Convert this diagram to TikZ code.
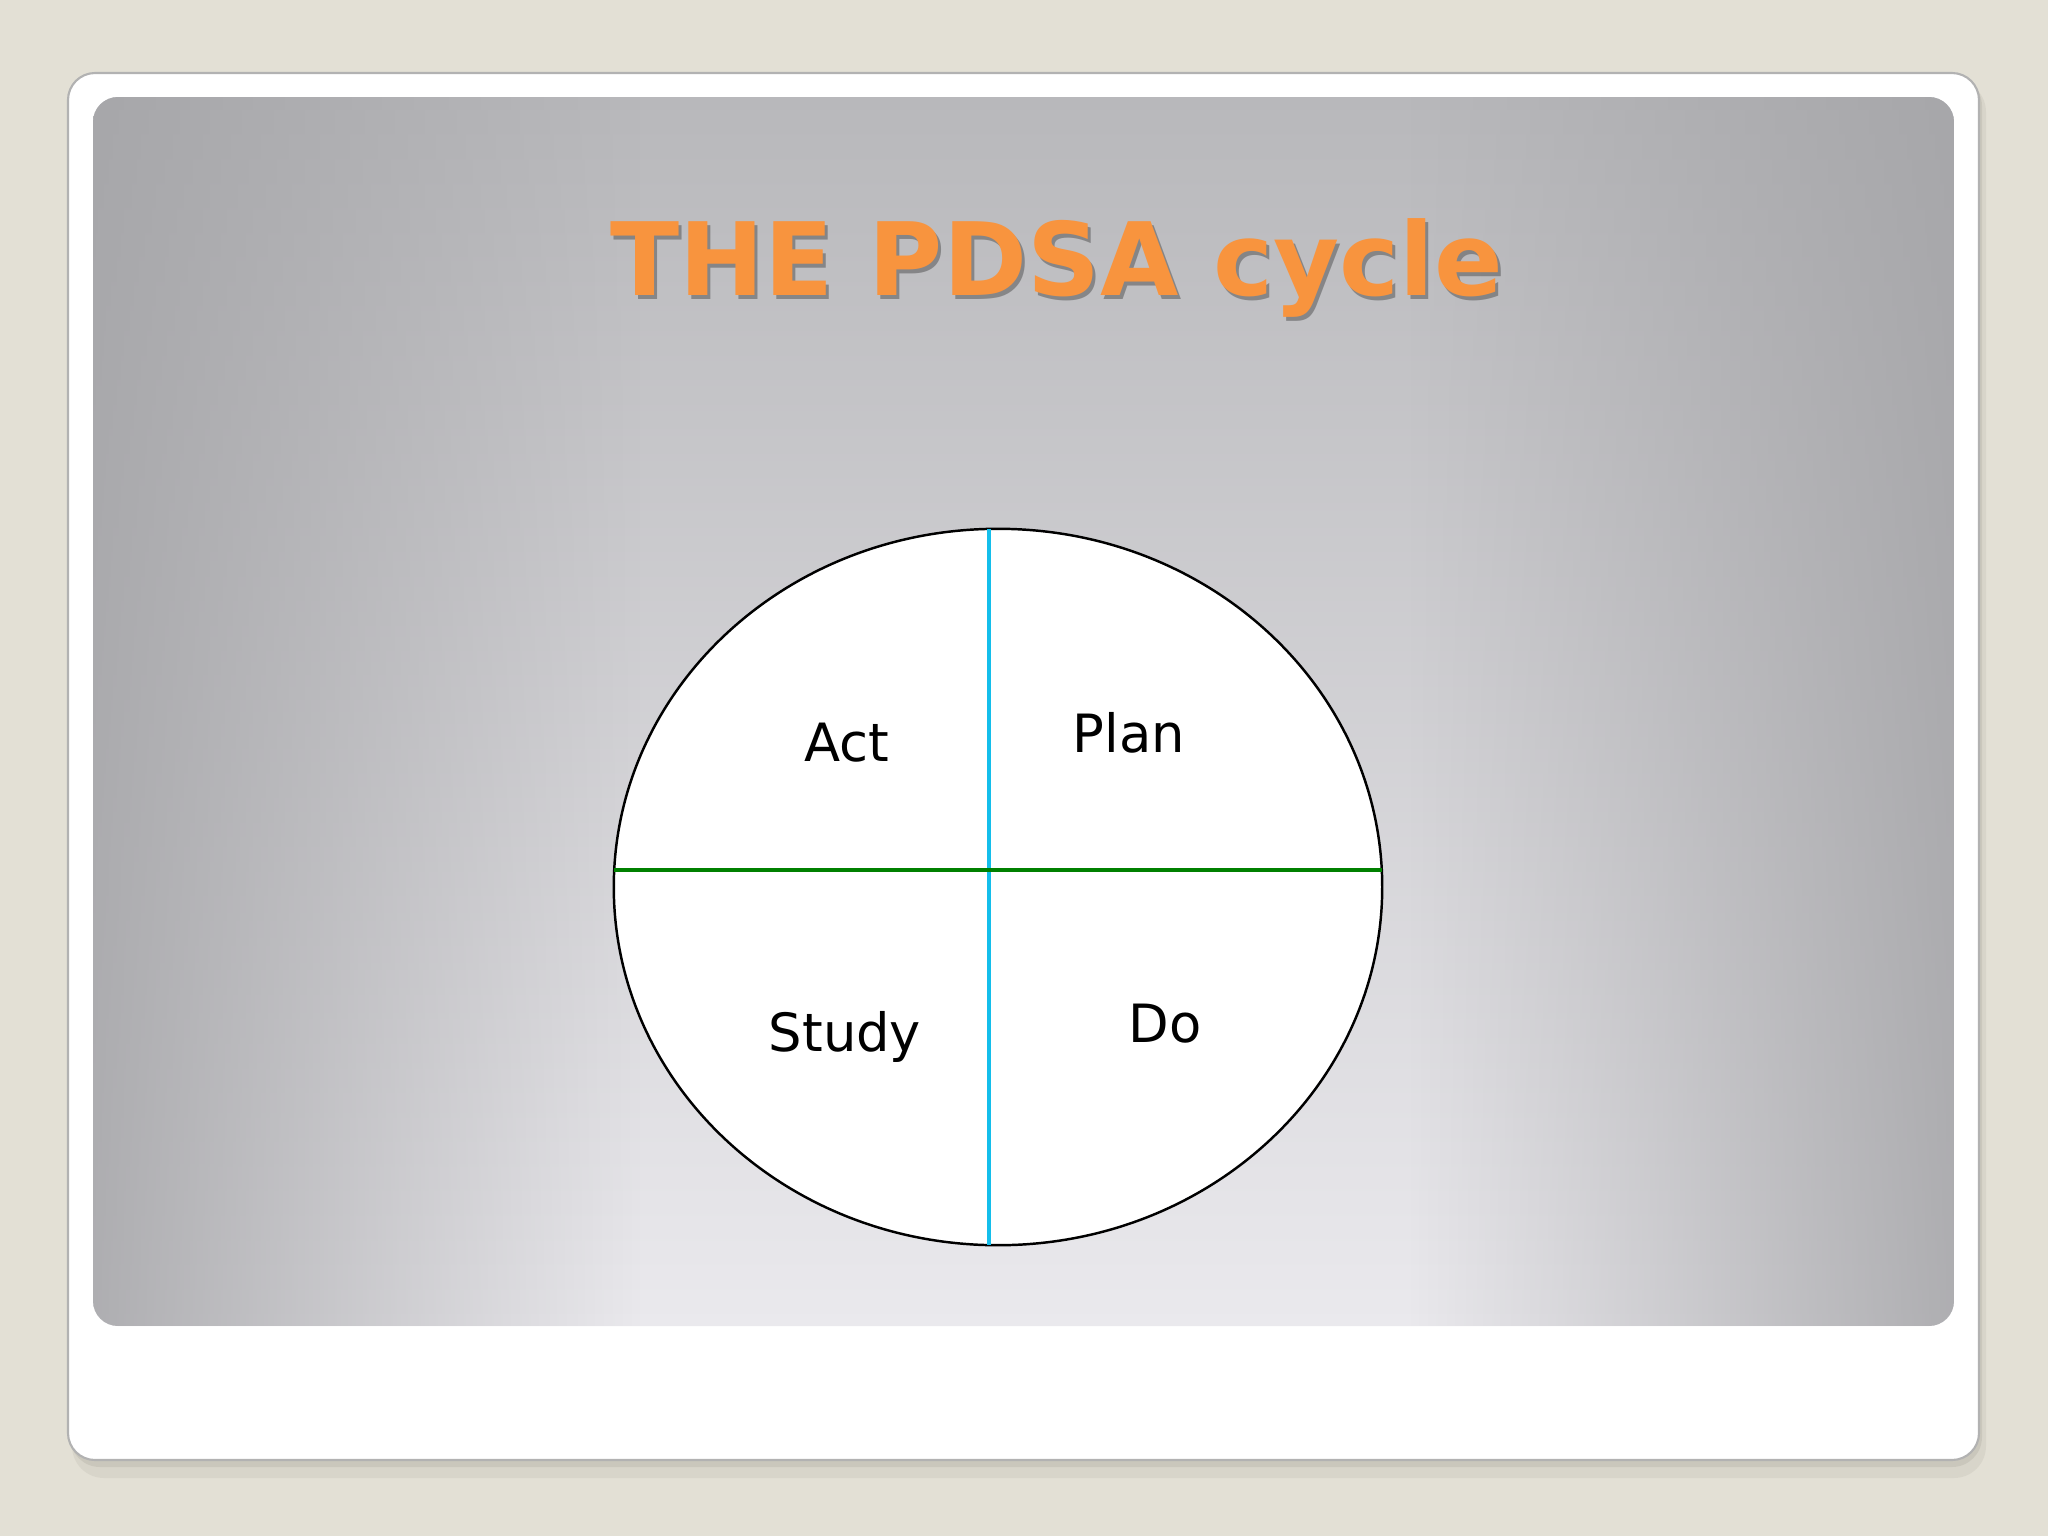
\documentclass[tikz,border=0pt]{standalone}
\usepackage{fontspec}
\setmainfont{DejaVu Sans}
\usetikzlibrary{shapes.geometric,fadings}

\definecolor{slidebg}{RGB}{227,224,213}
\definecolor{cardshadow}{RGB}{186,183,172}
\definecolor{panelTop}{RGB}{184,184,187}
\definecolor{panelBot}{RGB}{234,233,237}
\definecolor{panelEdge}{RGB}{164,164,167}
\definecolor{titleorange}{RGB}{248,148,62}
\definecolor{splitcyan}{RGB}{20,190,235}
\definecolor{splitgreen}{RGB}{0,128,0}

\tikzset{
  quarter/.style = {anchor = base, font = \fontsize{15}{18}\selectfont, text = black},
  heading/.style = {anchor = base, font = \fontsize{28.8}{34}\selectfont\bfseries}
}

\begin{document}
\begin{tikzpicture}[x = 0.01cm, y = -0.01cm]
	 \useasboundingbox (0, 0) rectangle (2048, 1536);
	 \fill[slidebg] (0, 0) rectangle (2048, 1536);
	 
	 \fill[cardshadow, opacity = 0.25, rounded corners = 0.32cm] (72, 80) rectangle (1986, 1478);
	 \fill[cardshadow, opacity = 0.45, rounded corners = 0.3cm] (70, 76) rectangle (1982, 1467);
	 \filldraw[fill = white, draw = gray!60, line width = 0.6pt, rounded corners = 0.27cm] (68, 73) rectangle (1979, 1460);
	 
	 \begin{scope}
	 \clip[rounded corners = 0.25cm] (93, 97) rectangle (1954, 1326);
	 \shade[top color = panelTop, bottom color = panelBot] (93, 97) rectangle (1954, 1326);
	 \fill[panelEdge, opacity = 0.85, path fading = east] (93, 97) rectangle (640, 1326);
	 \fill[panelEdge, opacity = 0.85, path fading = west] (1410, 97) rectangle (1954, 1326);
	 \end{scope}
	 
	 \node[heading, text = black!75, opacity = 0.45] (titleshadow) at (1060, 299) {THE PDSA cycle};
	 \node[heading, text = titleorange] (title) at (1057, 295) {THE PDSA cycle};
	 
	 \node[draw, ellipse, fill = white, line width = 0.7pt, inner sep = 0pt,
	   minimum width = 7.68cm, minimum height = 7.16cm] (cycle) at (998, 887) {};
	 
	 \coordinate (vtop) at (989, 529);
	 \coordinate (vbot) at (989, 1245);
	 \coordinate (hleft) at (614, 870);
	 \coordinate (hright) at (1382, 870);
	 
	 \draw[splitcyan, line width = 0.9pt] (vtop) -- (vbot);
	 \draw[splitgreen, line width = 0.9pt] (hleft) -- (hright);
	 
	 \node[quarter] (act) at (847, 761) {Act};
	 \node[quarter] (plan) at (1129, 752) {Plan};
	 \node[quarter] (study) at (845, 1051) {Study};
	 \node[quarter] (do) at (1165, 1042) {Do};
\end{tikzpicture}
\end{document}
